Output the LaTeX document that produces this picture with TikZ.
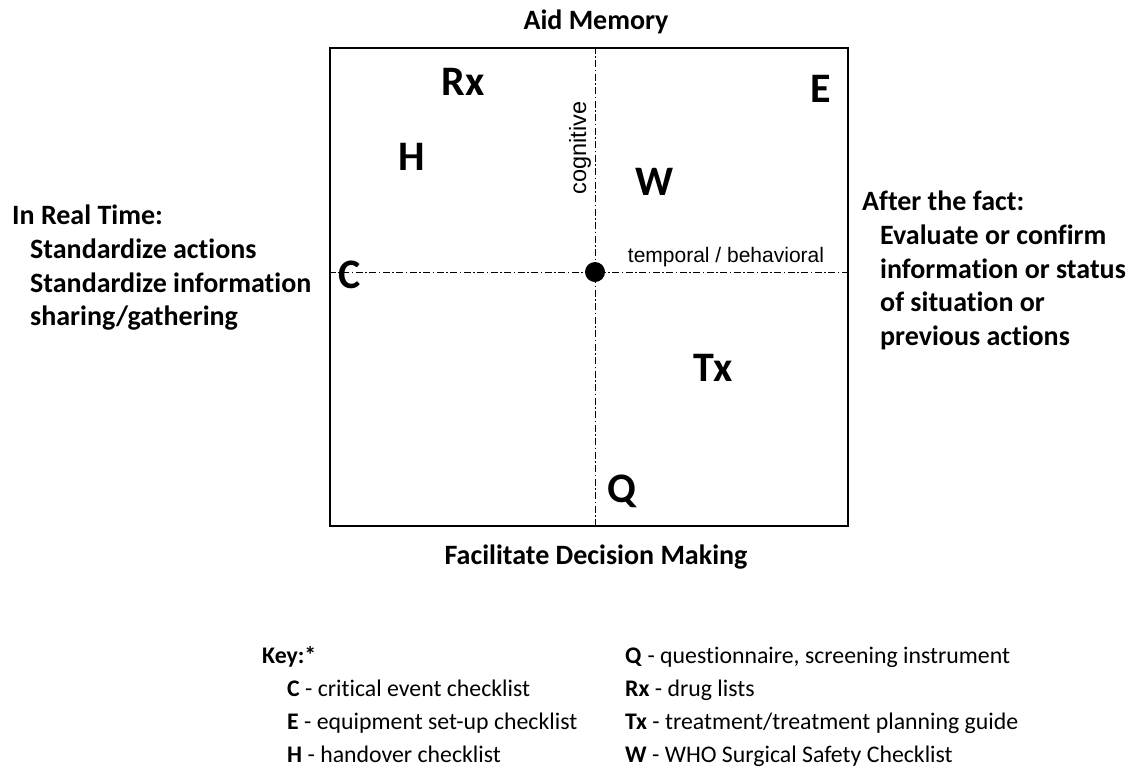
\documentclass[tikz,border=0pt]{standalone}
\usepackage{fontspec}
\setmainfont{Carlito}[Ligatures=NoCommon]
\newfontfamily\arialf{Liberation Sans}
\begin{document}
\begin{tikzpicture}[x=1pt,y=-1pt,
  big/.style={font=\fontsize{42}{46}\selectfont\bfseries, inner sep=0pt},
  head/.style={font=\fontsize{28}{32}\selectfont\bfseries, inner sep=0pt},
  side/.style={font=\fontsize{28}{32}\selectfont\bfseries, inner sep=0pt, anchor=base west},
  keyt/.style={font=\fontsize{23.8}{28}\selectfont, inner sep=0pt, anchor=base west},
  axlab/.style={font=\arialf\fontsize{21}{24}\selectfont, inner sep=0pt},
  axis/.style={line width=1pt, dash pattern=on 7pt off 2.5pt on 1.5pt off 2.5pt}]
\useasboundingbox (0,0) rectangle (1130,769);
% frame
\node[draw, line width=2.5pt, minimum width=518pt, minimum height=478pt, inner sep=0pt] (box) at (589,287) {};
\node[circle, fill=black, minimum size=20pt, inner sep=0pt] (o) at (595,272) {};
\draw[axis] (box.north -| o) -- (box.south -| o);
\draw[axis] (box.west |- o) -- (box.east |- o);
% axis labels
\node[axlab, rotate=90, font=\arialf\fontsize{23.5}{28}\selectfont] (cog) at (580,148) {cognitive};
\node[axlab] (temp) at (726,257) {temporal / behavioral};
% headings
\node[head] (aid) at (596,22) {Aid Memory};
\node[head] (fdm) at (596,557) {Facilitate Decision Making};
% left side
\node[side] (l1) at (12,224) {In Real Time:};
\node[side] (l2) at (30,258) {Standardize actions};
\node[side] (l3) at (30,292) {Standardize information};
\node[side] (l4) at (30,325) {sharing/gathering};
% right side
\node[side] (r1) at (862,210) {After the fact:};
\node[side] (r2) at (880,244) {Evaluate or confirm};
\node[side] (r3) at (880,278) {information or status};
\node[side] (r4) at (880,311) {of situation or};
\node[side] (r5) at (880,345) {previous actions};
% letters
\node[big] (Rx) at (463,82) {Rx};
\node[big] (E) at (821,89) {E};
\node[big] (H) at (412,157) {H};
\node[big] (W) at (655,182) {W};
\node[big] (C) at (350,275) {C};
\node[big] (Tx) at (713,368) {Tx};
\node[big] (Q) at (622,491) {Q};
% key
\node[keyt] (k0) at (262,663) {\textbf{Key:*}};
\node[keyt] (k1) at (287,696) {\textbf{C} - critical event checklist};
\node[keyt] (k2) at (287,729) {\textbf{E} - equipment set-up checklist};
\node[keyt] (k3) at (287,762) {\textbf{H} - handover checklist};
\node[keyt] (k4) at (625,663) {\textbf{Q} - questionnaire, screening instrument};
\node[keyt] (k5) at (625,696) {\textbf{Rx} - drug lists};
\node[keyt] (k6) at (625,729) {\textbf{Tx} - treatment/treatment planning guide};
\node[keyt] (k7) at (625,762) {\textbf{W} - WHO Surgical Safety Checklist};
\end{tikzpicture}
\end{document}
